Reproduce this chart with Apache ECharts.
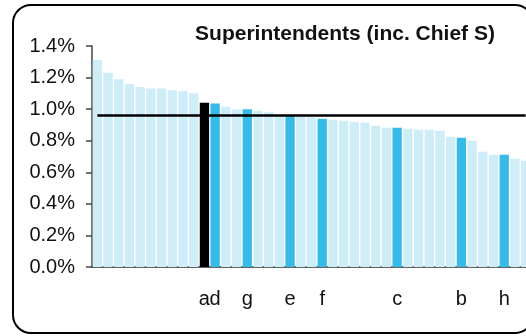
<!DOCTYPE html>
<html>
<head>
<meta charset="utf-8">
<script src="https://cdn.jsdelivr.net/npm/echarts@6/dist/echarts.min.js"></script>
<style>
  html, body { margin: 0; padding: 0; background: #fff; }
  #chart { width: 526px; height: 336px; }
</style>
</head>
<body>
<div id="chart"></div>
<script>
// Share of staff (%) per organisation, sorted descending
const values = [
  1.31, 1.23, 1.19, 1.16, 1.14, 1.13, 1.13, 1.12, 1.115, 1.10,
  1.04, 1.035, 1.015, 1.00, 1.00, 0.99, 0.98, 0.96, 0.955, 0.95,
  0.947, 0.939, 0.933, 0.926, 0.92, 0.914, 0.895, 0.882, 0.882, 0.876,
  0.869, 0.869, 0.863, 0.825, 0.819, 0.80, 0.73, 0.711, 0.711, 0.685,
  0.673
];
// Letter shown under each bar (blank for unnamed bars)
const tickLabels = [
  '', '', '', '', '', '', '', '', '', '',
  'a', 'd', '', '', 'g', '', '', '', 'e', '',
  '', 'f', '', '', '', '', '', '', 'c', '',
  '', '', '', '', 'b', '', '', '', 'h', '',
  ''
];
const focusIndex = 10;                          // the highlighted organisation
const peerIndices = [11, 14, 18, 21, 28, 34, 38]; // comparison group
const averageValue = 0.96;                      // overall average
const yTicks = [0, 0.2, 0.4, 0.6, 0.8, 1.0, 1.2, 1.4];

const categories = values.map((_, i) => 'org' + i);

const LIGHT = '#cdedf9';
const PEER = '#35bbe9';
const FOCUS = '#000000';

const barData = values.map((v, i) => ({
  value: v,
  itemStyle: {
    color: i === focusIndex ? FOCUS : (peerIndices.includes(i) ? PEER : LIGHT)
  }
}));

const chart = echarts.init(document.getElementById('chart'), null, { renderer: 'canvas' });
chart.setOption({
  animation: false,
  title: {
    text: 'Superintendents (inc. Chief S)',
    left: 340,
    textAlign: 'center',
    top: 19,
    textStyle: {
      fontFamily: 'Liberation Sans, Arial, sans-serif',
      fontWeight: 'bold',
      fontSize: 21,
      color: '#111'
    }
  },
  graphic: [{
    type: 'rect',
    shape: { x: 13, y: 5, width: 520, height: 328, r: 18 },
    style: { fill: 'none', stroke: '#000', lineWidth: 2 },
    silent: true,
    z: 100
  }],
  grid: {
    left: 92,
    top: 46,
    bottom: 69,
    width: 439,
    outerBoundsMode: 'none'
  },
  xAxis: {
    type: 'category',
    data: categories,
    axisLine: { lineStyle: { color: '#333', width: 1.5 } },
    axisTick: { show: false },
    axisLabel: {
      interval: 0,
      margin: 22,
      fontFamily: 'Liberation Sans, Arial, sans-serif',
      fontSize: 20,
      color: '#111',
      formatter: (v, i) => tickLabels[i]
    }
  },
  yAxis: {
    type: 'value',
    min: yTicks[0],
    max: yTicks[yTicks.length - 1],
    interval: 0.2,
    splitLine: { show: false },
    axisLine: { show: true, lineStyle: { color: '#444', width: 1.5 } },
    axisTick: { show: true, length: 6, lineStyle: { color: '#444', width: 1.5 } },
    axisLabel: {
      margin: 17,
      fontFamily: 'Liberation Sans, Arial, sans-serif',
      fontSize: 20,
      color: '#111',
      formatter: v => v.toFixed(1) + '%'
    }
  },
  series: [
    {
      type: 'bar',
      data: barData,
      barCategoryGap: '13%',
      z: 2
    },
    {
      type: 'line',
      data: values.map(() => averageValue),
      symbol: 'none',
      lineStyle: { color: '#000', width: 2.5 },
      z: 5
    }
  ]
});
</script>
</body>
</html>
